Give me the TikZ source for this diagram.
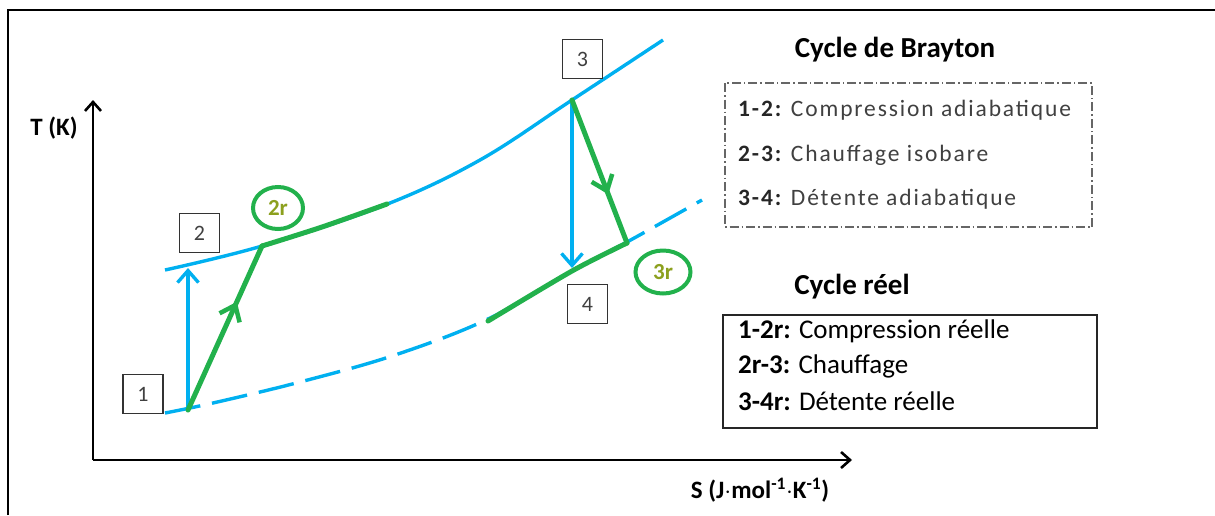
\documentclass[tikz,border=0pt]{standalone}
\usepackage{fontspec}
\setmainfont{Carlito}
\newfontfamily\brayfont[LetterSpace=8]{Carlito}
\usetikzlibrary{arrows.meta,decorations.markings,shapes.geometric}
\definecolor{cblue}{RGB}{0,176,240}
\definecolor{cgreen}{RGB}{34,177,76}
\definecolor{colive}{RGB}{140,160,30}
\definecolor{cgray}{RGB}{64,64,64}
\tikzset{
  axisline/.style={line width=2.6pt, black, -{Straight Barb[length=9pt,width=16pt]}},
  numbox/.style={draw=black!80, line width=1.5pt, minimum width=40pt, minimum height=39pt, inner sep=0pt, text=black!75, font=\fontsize{22}{24}\selectfont},
  rlabel/.style={shape=ellipse, draw=cgreen, line width=4pt, text=colive, inner sep=0pt, font=\bfseries\fontsize{23}{24}\selectfont},
  bluecurve/.style={cblue, line width=3.4pt},
  bluearrow/.style={cblue, line width=3.4pt, -{Straight Barb[length=12pt,width=21pt]}},
  greenline/.style={cgreen, line width=5pt, line join=round, line cap=round},
  greenarrow/.style={greenline, postaction={decorate}, decoration={markings, mark=at position 0.66 with {\arrow[cgreen, line width=4.5pt]{Straight Barb[length=14pt,width=22pt]}}}},
  lbl/.style={anchor=west, inner sep=0pt, text height=0.64em, text depth=0pt},
}
\begin{document}
\begin{tikzpicture}[x=1pt,y=-1pt]
\useasboundingbox (0,0) rectangle (1215,515);
% frame
\coordinate (fbl) at (8,515);
\coordinate (ftl) at (8,10);
\coordinate (ftr) at (1215,10);
\draw[line width=2.4pt] (fbl) -- (ftl) -- (ftr);
% axes
\coordinate (O) at (93,460);
\coordinate (Ty) at (93,100);
\coordinate (Sx) at (852,460);
\draw[axisline] (O) -- (Ty);
\draw[axisline] (O) -- (Sx);
\node[font=\bfseries\fontsize{25}{26}\selectfont] (Tlab) at (54,128) {T (K)};
\node[font=\bfseries\fontsize{25}{26}\selectfont] (Slab) at (760,490) {S (J$\cdot$mol\textsuperscript{-1}$\cdot$K\textsuperscript{-1})};
% curves
\draw[bluecurve] plot[smooth, tension=0.6] coordinates {(165,270) (262,246) (385,205) (480,160) (572,100) (663,40)};
\draw[bluecurve, dash pattern=on 36pt off 12pt] plot[smooth, tension=0.6] coordinates {(165,413) (213,403) (300,382) (395,355) (488,319) (572,271) (627,242) (702,200)};
% points
\coordinate (p1) at (188,410);
\coordinate (p2) at (188,268);
\coordinate (p2r) at (262,246);
\coordinate (p3) at (572,100);
\coordinate (p4) at (572,268);
\coordinate (p3r) at (627,243);
% isentropic arrows
\draw[bluearrow] (p1) -- (p2);
\draw[bluearrow] (p3) -- (p4);
% real cycle
\draw[greenarrow] (p1) -- (p2r);
\draw[greenline] plot[smooth] coordinates {(262,246) (322,227) (387,204)};
\draw[greenarrow] (p3) -- (p3r);
\draw[greenline] plot[smooth] coordinates {(627,243) (572,271) (488,321)};
% numbered boxes
\node[numbox] (b1) at (143,394) {1};
\node[numbox] (b2) at (199.5,233) {2};
\node[numbox] (b3) at (582.5,59) {3};
\node[numbox] (b4) at (587.5,304) {4};
\node[rlabel, minimum width=50pt, minimum height=42pt] (c2r) at (278,208) {2r};
\node[rlabel, minimum width=55pt, minimum height=43pt] (c3r) at (663,272) {3r};
% Brayton legend
\node[font=\bfseries\fontsize{29}{31}\selectfont] (tb) at (895,50) {Cycle de Brayton};
\draw[black!60, line width=1.1pt, dash pattern=on 9pt off 3pt on 1.5pt off 3pt] (725,83) rectangle (1092,227);
\begin{scope}[font=\brayfont\fontsize{23.5}{25}\selectfont, text=cgray]
\node[lbl] (l1) at (738,113) {\textbf{\color{black!85}1-2:} Compression adiabatique};
\node[lbl] (l2) at (738,158) {\textbf{\color{black!85}2-3:} Chauffage isobare};
\node[lbl] (l3) at (738,202) {\textbf{\color{black!85}3-4:} Détente adiabatique};
\end{scope}
% real legend
\node[font=\bfseries\fontsize{29}{31}\selectfont] (tr) at (852,287) {Cycle réel};
\draw[black!85, line width=1.6pt] (723,315) rectangle (1097,428);
\begin{scope}[font=\fontsize{27}{29}\selectfont, text=black]
\node[lbl] (r1) at (738,335) {\textbf{1-2r:} Compression réelle};
\node[lbl] (r2) at (738,370) {\textbf{2r-3:} Chauffage};
\node[lbl] (r3) at (738,407) {\textbf{3-4r:} Détente réelle};
\end{scope}
\end{tikzpicture}
\end{document}
